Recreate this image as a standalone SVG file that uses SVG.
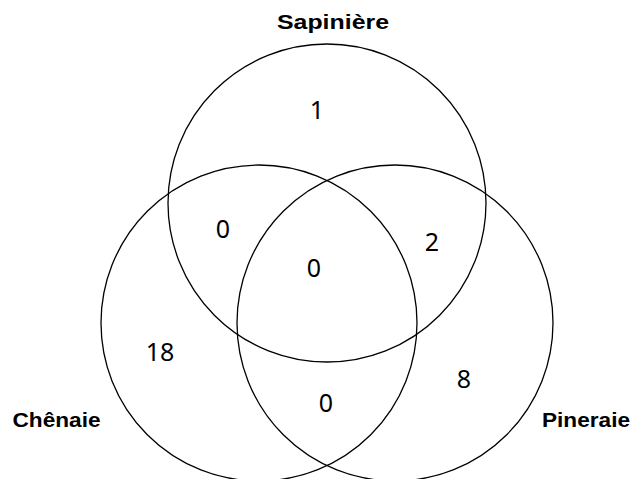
<svg xmlns="http://www.w3.org/2000/svg" width="633" height="479" viewBox="0 0 633 479">
<style>
.c{fill:none;stroke:#000;stroke-width:1.3}
.lbl{font-family:"Liberation Sans",Arial,sans-serif;font-weight:bold;font-size:19.5px;fill:#000}
.n{font-family:"Noto Sans","Open Sans",sans-serif;font-size:25px;fill:#000;text-anchor:middle}
</style>
<rect width="633" height="479" fill="#fff"/>
<g id="connectors"></g>
<g id="sapiniere">
<circle class="c" cx="327" cy="203" r="159"/>
<text class="lbl" x="277" y="29" textLength="112" lengthAdjust="spacingAndGlyphs">Sapinière</text>
</g>
<g id="chenaie">
<circle class="c" cx="259" cy="323" r="158"/>
<text class="lbl" x="12.5" y="427" textLength="88" lengthAdjust="spacingAndGlyphs">Chênaie</text>
</g>
<g id="pineraie">
<circle class="c" cx="395" cy="323" r="158"/>
<text class="lbl" x="542" y="427" textLength="88" lengthAdjust="spacingAndGlyphs">Pineraie</text>
</g>
<g id="counts">
<text class="n" x="317" y="119">1</text>
<text class="n" x="223" y="238">0</text>
<text class="n" x="314" y="277">0</text>
<text class="n" x="432" y="251">2</text>
<text class="n" x="160" y="361">18</text>
<text class="n" x="464" y="388">8</text>
<text class="n" x="326" y="412">0</text>
</g>
</svg>
